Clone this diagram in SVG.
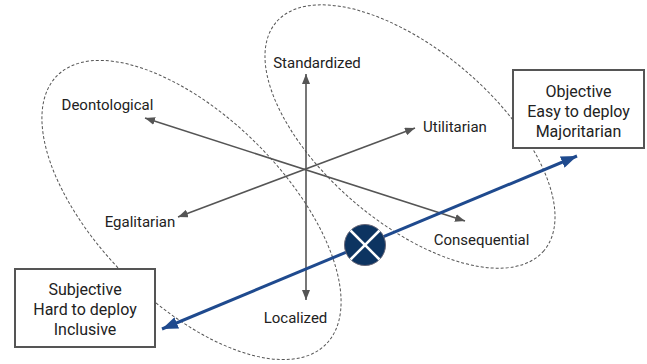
<svg xmlns="http://www.w3.org/2000/svg" width="647" height="364" viewBox="0 0 647 364">
<style>
text{font-family:Roboto,"Liberation Sans",sans-serif;font-size:15px;fill:#222;text-anchor:middle}
.bt{font-size:16px}
.box{fill:#fff;stroke:#555;stroke-width:2}
.ell{fill:none;stroke:#555;stroke-width:1;stroke-dasharray:3 2}
.axis{stroke:#555;stroke-width:1.6;fill:none}
.blue{stroke:#1f4a8e;stroke-width:3;fill:none}
</style>
<defs>
<marker id="ag" viewBox="0 0 10 8" refX="10" refY="4" markerWidth="10" markerHeight="8" markerUnits="userSpaceOnUse" orient="auto-start-reverse">
<path d="M0,0 L10,4 L0,8 z" fill="#555"/>
</marker>
<marker id="ab" viewBox="0 0 16 12" refX="16" refY="6" markerWidth="16" markerHeight="12" markerUnits="userSpaceOnUse" orient="auto-start-reverse">
<path d="M0,0 L16,6 L0,12 z" fill="#1f4a8e"/>
</marker>
</defs>
<rect width="647" height="364" fill="#fff"/>
<g id="regions">
<ellipse id="region-left" class="ell" cx="191.5" cy="210" rx="190" ry="93" transform="rotate(45 191.5 210)"/>
<ellipse id="region-right" class="ell" cx="410" cy="136.5" rx="176" ry="86" transform="rotate(40.5 410 136.5)"/>
</g>
<g id="connectors">
<line class="axis" x1="306" y1="74" x2="306" y2="300" marker-start="url(#ag)" marker-end="url(#ag)"/>
<line class="axis" x1="145" y1="118" x2="465" y2="221" marker-start="url(#ag)" marker-end="url(#ag)"/>
<line class="axis" x1="178" y1="217" x2="415" y2="128" marker-start="url(#ag)" marker-end="url(#ag)"/>
<line class="blue" x1="162" y1="329" x2="577" y2="156" marker-start="url(#ab)" marker-end="url(#ab)"/>
</g>
<g id="node-center">
<circle cx="365" cy="245" r="20.5" fill="#0d3461" stroke="#667" stroke-width="1"/>
<line x1="350.5" y1="230.5" x2="379.5" y2="259.5" stroke="#fff" stroke-width="2.5"/>
<line x1="379.5" y1="230.5" x2="350.5" y2="259.5" stroke="#fff" stroke-width="2.5"/>
</g>
<g id="node-standardized"><text x="317" y="68">Standardized</text></g>
<g id="node-localized"><text x="295.5" y="323">Localized</text></g>
<g id="node-deontological"><text x="107.5" y="110">Deontological</text></g>
<g id="node-consequential"><text x="481.5" y="245">Consequential</text></g>
<g id="node-egalitarian"><text x="140" y="227">Egalitarian</text></g>
<g id="node-utilitarian"><text x="455" y="132">Utilitarian</text></g>
<g id="node-objective">
<rect class="box" x="513" y="70" width="131" height="78"/>
<text class="bt" x="578.5" y="97">Objective</text>
<text class="bt" x="578.5" y="117">Easy to deploy</text>
<text class="bt" x="578.5" y="137">Majoritarian</text>
</g>
<g id="node-subjective">
<rect class="box" x="15" y="269" width="140" height="78"/>
<text class="bt" x="85" y="295">Subjective</text>
<text class="bt" x="85" y="315">Hard to deploy</text>
<text class="bt" x="85" y="335">Inclusive</text>
</g>
</svg>
